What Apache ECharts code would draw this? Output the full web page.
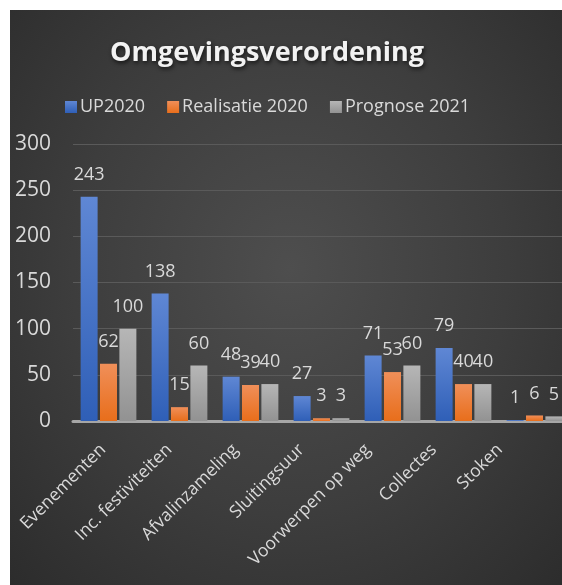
<!DOCTYPE html>
<html>
<head>
<meta charset="utf-8">
<script src="https://cdn.jsdelivr.net/npm/echarts@6/dist/echarts.min.js"></script>
<style>
  html, body { margin: 0; padding: 0; background: #fff; overflow: hidden; }
  #wrap { position: relative; width: 562px; height: 585px; overflow: hidden; }
  #chart {
    position: absolute; left: 10px; top: 10px; width: 560px; height: 575px;
    background: radial-gradient(ellipse at 50% 45%, #4e4e4e 0%, #3d3d3d 55%, #2c2c2c 100%);
  }
</style>
</head>
<body>
<div id="wrap"><div id="chart"></div></div>
<script>
var categories = ['Evenementen', 'Inc. festiviteiten', 'Afvalinzameling', 'Sluitingsuur', 'Voorwerpen op weg', 'Collectes', 'Stoken']
var up2020 = [243, 138, 48, 27, 71, 79, 1]
var realisatie2020 = [62, 15, 39, 3, 53, 40, 6]
var prognose2021 = [100, 60, 40, 3, 60, 40, 5]
var seriesNames = ['UP2020', 'Realisatie 2020', 'Prognose 2021']
var yTicks = [0, 50, 100, 150, 200, 250, 300]

var font = '"Open Sans", "DejaVu Sans", sans-serif'

function grad(top, bottom) {
  return {
    type: 'linear', x: 0, y: 0, x2: 0, y2: 1,
    colorStops: [{ offset: 0, color: top }, { offset: 1, color: bottom }]
  }
}

function barSeries(name, data, color) {
  return {
    name: name,
    type: 'bar',
    data: data,
    barWidth: 17,
    barGap: '14%',
    itemStyle: { color: color },
    label: {
      show: true,
      position: 'top',
      distance: 13,
      color: '#d9d9d9',
      fontSize: 18,
      fontFamily: font
    },
    animation: false
  }
}

var chart = echarts.init(document.getElementById('chart'))
chart.setOption({
  backgroundColor: 'transparent',
  title: {
    text: 'Omgevingsverordening',
    left: 252,
    top: 25,
    textAlign: 'center',
    textStyle: {
      color: '#f2f2f2',
      fontSize: 27,
      fontWeight: 'bold',
      fontFamily: font,
      textShadowColor: 'rgba(0,0,0,0.7)',
      textShadowBlur: 4,
      textShadowOffsetX: 1,
      textShadowOffsetY: 2
    }
  },
  legend: {
    data: seriesNames,
    left: 50,
    top: 83,
    itemWidth: 12,
    itemHeight: 12,
    itemGap: 22,
    icon: 'rect',
    textStyle: { color: '#d9d9d9', fontSize: 18, fontFamily: font, padding: [0, 0, 0, -2] }
  },
  grid: [
    { left: 63, right: 0, top: 134, bottom: 164 },
    // labels in the reference sit a bit tighter than the bars
    { left: 60, right: 37, top: 134, bottom: 164 }
  ],
  xAxis: [{
    type: 'category',
    gridIndex: 0,
    data: categories,
    axisTick: { show: false },
    axisLine: { lineStyle: { color: '#a6a6a6', width: 3 } },
    axisLabel: { show: false }
  }, {
    type: 'category',
    gridIndex: 1,
    data: categories,
    axisTick: { show: false },
    axisLine: { show: false },
    axisLabel: {
      rotate: 45,
      interval: 0,
      margin: 26,
      color: '#d9d9d9',
      fontSize: 17.5,
      fontFamily: font
    }
  }],
  yAxis: [{
    type: 'value',
    gridIndex: 0,
    min: yTicks[0],
    max: yTicks[yTicks.length - 1],
    interval: 50,
    axisLine: { show: false },
    axisTick: { show: false },
    splitLine: { lineStyle: { color: '#5a5a5a', width: 1 } },
    axisLabel: {
      margin: 22,
      color: '#d9d9d9',
      fontSize: 21,
      fontFamily: font
    }
  }, {
    type: 'value',
    gridIndex: 1,
    show: false,
    min: yTicks[0],
    max: yTicks[yTicks.length - 1],
    splitLine: { show: false }
  }],
  series: [
    barSeries(seriesNames[0], up2020, grad('#5f87d4', '#2f5fb7')),
    barSeries(seriesNames[1], realisatie2020, grad('#f08f59', '#e86e1b')),
    barSeries(seriesNames[2], prognose2021, grad('#b6b6b6', '#929292'))
  ]
})
</script>
</body>
</html>
